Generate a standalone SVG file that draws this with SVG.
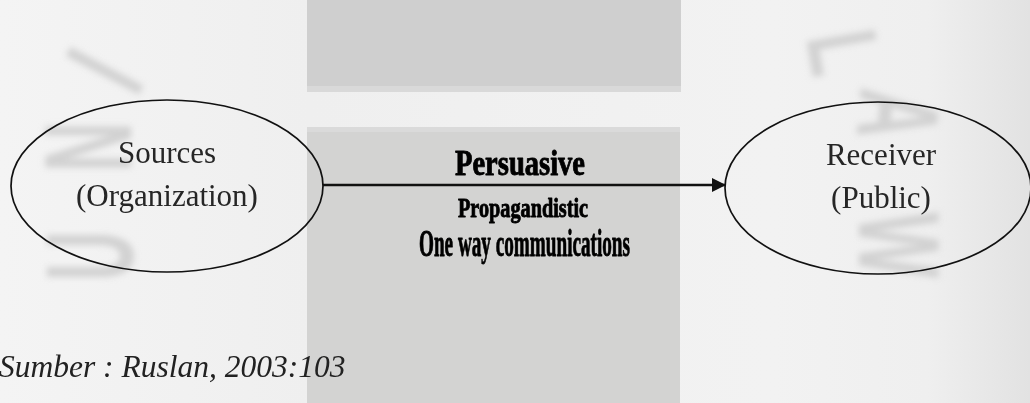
<svg xmlns="http://www.w3.org/2000/svg" width="1030" height="403" viewBox="0 0 1030 403">
  <defs>
    <linearGradient id="bg" x1="0" y1="0" x2="1" y2="0">
      <stop offset="0" stop-color="#f4f4f4"/>
      <stop offset="0.3" stop-color="#efefef"/>
      <stop offset="0.75" stop-color="#f2f2f2"/>
      <stop offset="0.9" stop-color="#efefef"/>
      <stop offset="1" stop-color="#e2e2e2"/>
    </linearGradient>
    <filter id="soft" x="-30%" y="-30%" width="160%" height="160%">
      <feGaussianBlur stdDeviation="3"/>
    </filter>
    <marker id="head" viewBox="0 0 14 14" refX="13" refY="7" markerWidth="14" markerHeight="14" markerUnits="userSpaceOnUse" orient="auto">
      <path d="M0,0 L14,7 L0,14 Z" fill="#111"/>
    </marker>
    <style>
      .node { fill: none; stroke: #111; stroke-width: 1.7; }
      .label { font-family: "Liberation Serif", "Times New Roman", serif; font-size: 31px; fill: #262626; text-anchor: middle; }
      .flow { font-family: "Liberation Serif", "Times New Roman", serif; font-weight: bold; fill: #000; stroke: #000; stroke-width: 0.9; stroke-linejoin: round; text-anchor: middle; }
      .mark { font-family: "Liberation Sans", Arial, sans-serif; font-size: 100px; font-weight: bold; fill: #d2d2d2; text-anchor: middle; }
      .note { font-family: "Liberation Serif", "Times New Roman", serif; font-style: italic; font-size: 31.5px; fill: #222; }
    </style>
  </defs>

  <!-- page background with the faded seal letters -->
  <rect x="0" y="0" width="1030" height="403" fill="url(#bg)"/>
  <g id="watermark" filter="url(#soft)">
    <text class="mark" transform="translate(88,256) rotate(-90) scale(0.7,1.25) translate(0,36)">U</text>
    <text class="mark" transform="translate(86,147) rotate(-90) scale(0.7,1.25) translate(0,36)">N</text>
    <text class="mark" transform="translate(103,70) rotate(-62) scale(0.7,1.2) translate(0,36)">I</text>
    <text class="mark" transform="translate(900,115) rotate(95) scale(0.7,1.15) translate(0,36)">A</text>
    <text class="mark" transform="translate(900,245) rotate(90) scale(0.7,1.15) translate(0,36)">W</text>
    <text class="mark" transform="translate(845,52) rotate(80) scale(0.7,1.0) translate(0,36)">L</text>
  </g>

  <!-- grey panels behind the centre column -->
  <rect x="307" y="0" width="374" height="86" fill="#cfcfcf"/>
  <rect x="307" y="86" width="374" height="6" fill="#d9d9d9"/>
  <rect x="307" y="127" width="373" height="276" fill="#d3d3d2"/>
  <rect x="307" y="127" width="373" height="5" fill="#dadada"/>

  <!-- connector -->
  <g id="connectors">
    <line x1="323" y1="185" x2="725" y2="185" stroke="#111" stroke-width="2.4" marker-end="url(#head)"/>
  </g>

  <g id="source">
    <ellipse class="node" cx="167" cy="186" rx="156" ry="86"/>
    <text class="label" x="167" y="163">Sources</text>
    <text class="label" x="167" y="206">(Organization)</text>
  </g>

  <g id="receiver">
    <ellipse class="node" cx="878" cy="188" rx="153" ry="86"/>
    <text class="label" x="881" y="165">Receiver</text>
    <text class="label" x="881" y="208">(Public)</text>
  </g>

  <g id="flow-label">
    <text class="flow" x="520" y="175" font-size="35" textLength="130" lengthAdjust="spacingAndGlyphs">Persuasive</text>
    <text class="flow" x="523" y="217" font-size="27" textLength="130" lengthAdjust="spacingAndGlyphs">Propagandistic</text>
    <text class="flow" x="524.5" y="256" font-size="38" textLength="211" lengthAdjust="spacingAndGlyphs">One way communications</text>
  </g>

  <g id="source-note">
    <text class="note" x="-1" y="377">Sumber : Ruslan, 2003:103</text>
  </g>
</svg>
